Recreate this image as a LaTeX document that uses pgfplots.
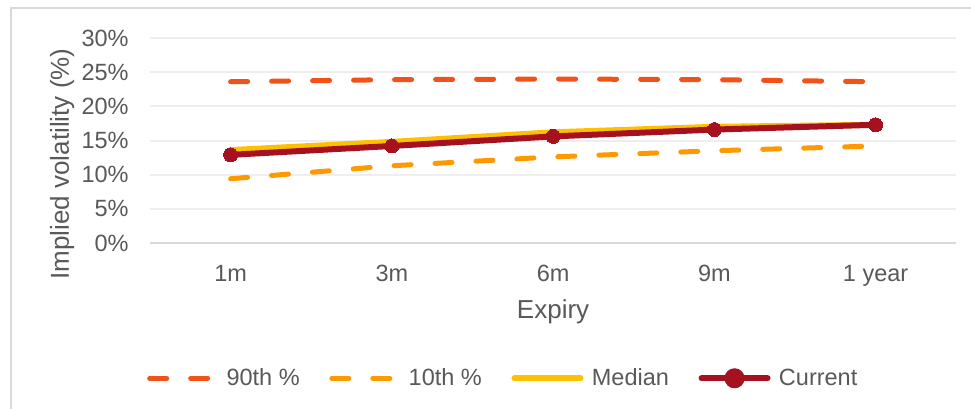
\documentclass[border=0pt]{standalone}
\usepackage{pgfplots}
\pgfplotsset{compat=1.18}
\usepackage{fontspec}
\setmainfont{Liberation Sans}

\definecolor{pOrangeRed}{HTML}{F0521A}
\definecolor{pOrange}{HTML}{FF9900}
\definecolor{pGold}{HTML}{FFC000}
\definecolor{pDarkRed}{HTML}{A5111E}
\definecolor{pText}{HTML}{595959}
\definecolor{pGrid}{HTML}{EEEEEE}
\definecolor{pAxis}{HTML}{D9D9D9}

\newcommand{\ticksize}{\fontsize{11.75bp}{14bp}\selectfont}
\newcommand{\titlesize}{\fontsize{13bp}{15bp}\selectfont}

\begin{document}
\begin{tikzpicture}
\useasboundingbox (0,0) rectangle (485.5bp,204.5bp);
% chart frame (left and top edges)
\draw[pAxis, line width=1bp] (5.5bp,0bp) -- (5.5bp,200.4bp) -- (485.5bp,200.4bp);

\begin{axis}[
  at={(75bp,83bp)}, anchor=south west,
  scale only axis, width=403.1bp, height=102.5bp,
  xmin=-0.5, xmax=4.5, ymin=0, ymax=30,
  xtick={0,1,2,3,4},
  xticklabels={1m,3m,6m,9m,1 year},
  ytick={0,5,10,15,20,25,30},
  yticklabels={0\%,5\%,10\%,15\%,20\%,25\%,30\%},
  major tick length=0pt,
  axis lines*=left,
  y axis line style={draw=none},
  x axis line style={draw=pAxis, line width=1bp},
  ymajorgrids,
  major grid style={draw=pGrid, line width=1bp},
  tick label style={font=\ticksize, text=pText},
  yticklabel style={anchor=east, inner sep=0pt, xshift=-10.5bp},
  xticklabel style={anchor=base, inner sep=0pt, yshift=-19bp},
  xlabel={Expiry},
  xlabel style={font=\titlesize, text=pText, at={(axis description cs:0.5,0)}, anchor=base, inner sep=0pt, yshift=-37.5bp},
  ylabel={Implied volatility (\%)},
  ylabel style={font=\titlesize, text=pText, at={(axis description cs:-0.109,0.385)}, anchor=center, rotate=0, inner sep=0pt},
  legend columns=4,
  legend style={at={(axis description cs:-0.004,-0.66)}, anchor=west,
    draw=none, fill=none, inner sep=0pt, font=\ticksize, text=pText,
    nodes={inner sep=0pt, anchor=west},
    /tikz/every odd column/.append style={column sep=4.2bp},
    /tikz/every even column/.append style={column sep=14.8bp}},
  legend cell align=left,
  legend image code/.code={\draw[#1] (0bp,0bp) -- (33bp,0bp);},
]
% 90th percentile
\addplot[pOrangeRed, line width=2.5bp, line cap=round, dash pattern=on 8.5bp off 12bp, mark=none]
  coordinates {(0,23.6) (1,23.9) (2,24.0) (3,23.9) (4,23.6)};
\addlegendentry{90th \%}
% 10th percentile
\addplot[pOrange, line width=2.5bp, line cap=round, dash pattern=on 8.5bp off 12bp, mark=none]
  coordinates {(0,9.4) (1,11.3) (2,12.6) (3,13.5) (4,14.2)};
\addlegendentry{10th \%}
% median
\addplot[pGold, line width=3bp, line cap=round, mark=none]
  coordinates {(0,13.6) (1,14.8) (2,16.2) (3,17.0) (4,17.3)};
\addlegendentry{Median}
% current
\addplot[pDarkRed, line width=3bp, line cap=round, mark=*, mark size=3.5bp,
  mark options={solid, fill=pDarkRed, draw=pDarkRed, line width=0pt},
  legend image code/.code={\draw[pDarkRed, line width=3bp, line cap=round] (0bp,0bp) -- (33bp,0bp);
    \fill[pDarkRed] (16.5bp,0bp) circle (3.5bp);}]
  coordinates {(0,12.9) (1,14.2) (2,15.6) (3,16.6) (4,17.3)};
\addlegendentry{Current}
\end{axis}
\end{tikzpicture}
\end{document}
